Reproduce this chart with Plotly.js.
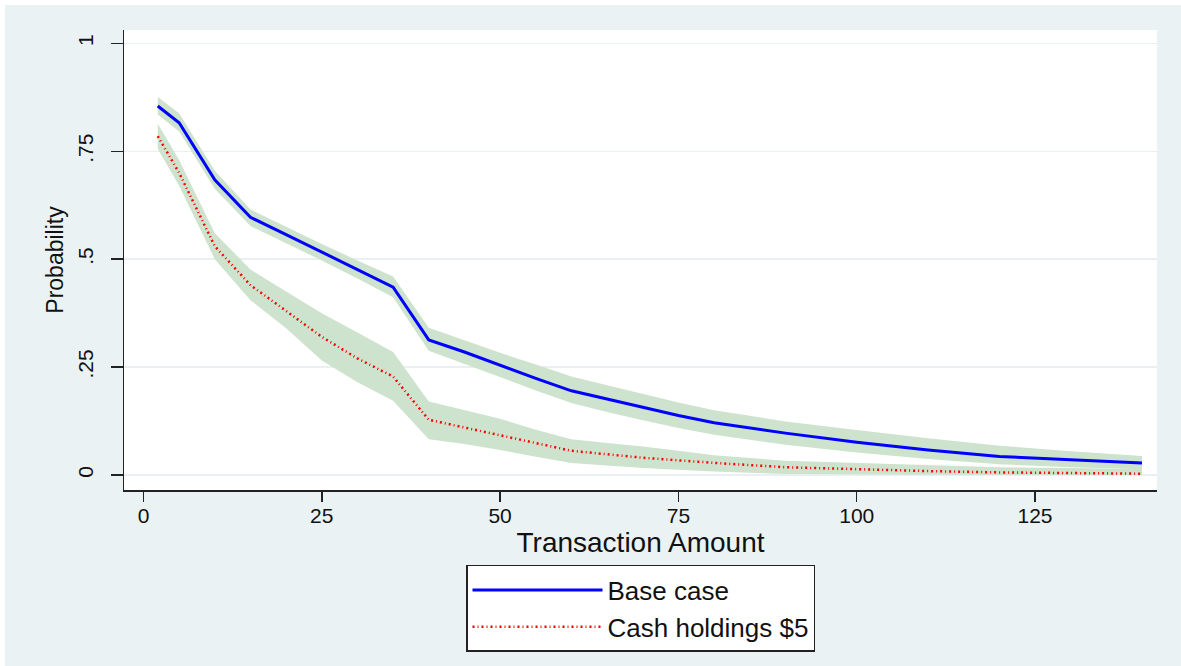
<!DOCTYPE html>
<html>
<head>
<meta charset="utf-8">
<script src="https://cdn.plot.ly/plotly-3.0.1.min.js"></script>
<style>
  html, body { margin: 0; padding: 0; background: #ffffff; }
  #chart { position: absolute; left: 5px; top: 5px; width: 1176px; height: 661px; }
</style>
</head>
<body>
<div id="chart"></div>
<script>
// Transaction amounts
const amounts = [2, 5, 10, 15, 20, 25, 30, 35, 40, 45, 50, 55, 60, 65, 70, 75, 80, 90, 100, 110, 120, 130, 140];

// Base case
const baseProb  = [0.855, 0.816, 0.684, 0.597, 0.557, 0.517, 0.476, 0.435, 0.313, 0.285, 0.254, 0.224, 0.195, 0.176, 0.157, 0.138, 0.121, 0.097, 0.076, 0.058, 0.043, 0.036, 0.028];
const baseUpper = [0.876, 0.838, 0.705, 0.615, 0.575, 0.535, 0.497, 0.460, 0.341, 0.312, 0.283, 0.256, 0.228, 0.208, 0.188, 0.168, 0.150, 0.124, 0.104, 0.085, 0.068, 0.055, 0.044];
const baseLower = [0.835, 0.796, 0.663, 0.577, 0.537, 0.497, 0.455, 0.412, 0.288, 0.257, 0.226, 0.196, 0.167, 0.146, 0.127, 0.109, 0.093, 0.070, 0.052, 0.037, 0.025, 0.018, 0.013];

// Cash holdings $5
const cashProb  = [0.785, 0.700, 0.530, 0.440, 0.380, 0.320, 0.270, 0.228, 0.128, 0.110, 0.093, 0.074, 0.056, 0.048, 0.040, 0.034, 0.028, 0.018, 0.013, 0.009, 0.006, 0.004, 0.003];
const cashUpper = [0.814, 0.730, 0.560, 0.476, 0.425, 0.375, 0.330, 0.285, 0.170, 0.150, 0.130, 0.105, 0.083, 0.074, 0.066, 0.056, 0.046, 0.033, 0.028, 0.022, 0.018, 0.016, 0.014];
const cashLower = [0.756, 0.670, 0.500, 0.405, 0.340, 0.265, 0.215, 0.172, 0.083, 0.072, 0.058, 0.042, 0.028, 0.022, 0.016, 0.012, 0.008, 0.002, 0.001, 0.000, 0.000, 0.000, 0.000];

const seriesNames = ["Base case", "Cash holdings $5"];
const yTickVals = [0, 0.25, 0.5, 0.75, 1];
const yTickText = ["0", ".25", ".5", ".75", "1"];
const xTickVals = [0, 25, 50, 75, 100, 125];

const bandColor = "#cde3cd";
const font = "Liberation Sans, Arial, Helvetica, sans-serif";

function band(lower, upper) {
  return [
    { x: amounts, y: lower, type: "scatter", mode: "lines", line: { width: 0, color: bandColor },
      showlegend: false, hoverinfo: "skip" },
    { x: amounts, y: upper, type: "scatter", mode: "lines", line: { width: 0, color: bandColor },
      fill: "tonexty", fillcolor: bandColor, showlegend: false, hoverinfo: "skip" }
  ];
}

const data = [
  ...band(baseLower, baseUpper),
  ...band(cashLower, cashUpper),
  { x: amounts, y: baseProb, type: "scatter", mode: "lines", name: seriesNames[0],
    line: { color: "#0000ff", width: 3 } },
  { x: amounts, y: cashProb, type: "scatter", mode: "lines", name: seriesNames[1],
    line: { color: "#ff0000", width: 2.5, dash: "2px,3px,1px,3px" } }
];

const layout = {
  width: 1176, height: 661,
  paper_bgcolor: "#eaf2f3",
  plot_bgcolor: "#ffffff",
  margin: { l: 119, r: 24, t: 25, b: 176 },
  font: { family: font, color: "#111111", size: 21 },
  xaxis: {
    range: [-2.73, 142.1],
    tickvals: xTickVals,
    ticks: "outside", ticklen: 10, tickwidth: 1.5, tickcolor: "#222222",
    ticklabelstandoff: -4,
    showline: true, linecolor: "#222222", linewidth: 1.5,
    showgrid: false, zeroline: false, automargin: false,
    tickfont: { size: 21, family: font, color: "#111111" },
    title: { text: "Transaction Amount", font: { size: 28, family: font, color: "#111111" }, standoff: 0 }
  },
  yaxis: {
    range: [-0.0348, 1.031],
    tickvals: yTickVals, ticktext: yTickText,
    tickangle: -90,
    ticks: "outside", ticklen: 12, tickwidth: 1.5, tickcolor: "#222222",
    ticklabelstandoff: 9,
    showline: true, linecolor: "#222222", linewidth: 1.5,
    showgrid: true, gridcolor: "#e8f0f2", gridwidth: 1.5,
    zeroline: false, automargin: false,
    tickfont: { size: 21, family: font, color: "#111111" },
    title: { text: "Probability", font: { size: 23, family: font, color: "#111111" }, standoff: 4 }
  },
  showlegend: true,
  legend: {
    x: 0.5, xanchor: "center", y: -0.163, yanchor: "top",
    traceorder: "normal",
    bgcolor: "#ffffff", bordercolor: "#222222", borderwidth: 1.5,
    font: { size: 26, family: font, color: "#111111" },
    itemwidth: 130,
    tracegroupgap: 0
  }
};

Plotly.newPlot("chart", data, layout, { displayModeBar: false, staticPlot: true });
</script>
</body>
</html>
